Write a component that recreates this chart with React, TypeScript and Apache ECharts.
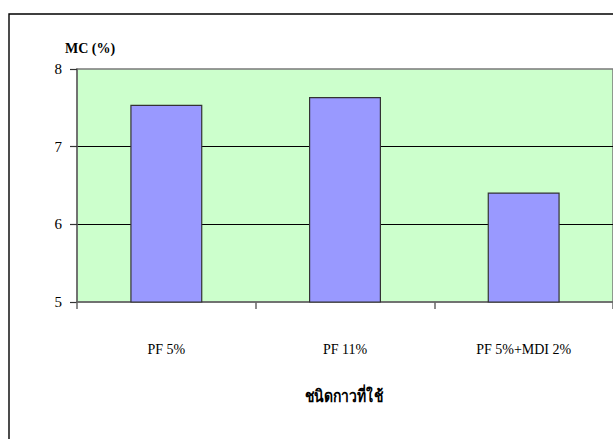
import React, { useEffect, useRef } from "react";
import * as echarts from "echarts";

const categories = ["PF 5%", "PF 11%", "PF 5%+MDI 2%"];
const mcValues = [7.54, 7.64, 6.41];
const yMin = 5;
const yMax = 8;
const yStep = 1;
const yTitle = "MC (%)";
const xTitle = "ชนิดกาวที่ใช้";

const serif = "Liberation Serif";

export default function App() {
  const ref = useRef<HTMLDivElement>(null);

  useEffect(() => {
    if (!ref.current) return;
    const chart = echarts.init(ref.current, undefined, { renderer: "svg" });
    chart.setOption({
      animation: false,
      backgroundColor: "#ffffff",
      grid: {
        left: 77,
        top: 69,
        width: 539,
        height: 233,
        show: true,
        backgroundColor: "#CCFFCC",
        borderColor: "#7a7a7a",
        borderWidth: 1.5,
      },
      graphic: [
        {
          type: "rect",
          shape: { x: 9, y: 14, width: 700, height: 500 },
          style: { fill: "none", stroke: "#000", lineWidth: 1.4 },
          z: 10,
        },
        {
          type: "text",
          x: 65,
          y: 48,
          style: {
            text: yTitle,
            fontFamily: serif,
            fontWeight: "bold",
            fontSize: 14,
            fill: "#000",
            verticalAlign: "middle",
          },
        },
        {
          type: "text",
          x: 344,
          y: 396,
          scaleX: 0.82,
          style: {
            text: xTitle,
            fontFamily: serif,
            fontWeight: "bold",
            fontSize: 17,
            fill: "#000",
            align: "center",
            verticalAlign: "middle",
          },
        },
      ],
      xAxis: {
        type: "category",
        data: categories,
        axisLine: { lineStyle: { color: "#666", width: 1.5 } },
        axisTick: { show: true, length: 7, lineStyle: { color: "#666", width: 1.5 } },
        axisLabel: {
          margin: 40,
          fontFamily: serif,
          fontSize: 14,
          color: "#000",
        },
      },
      yAxis: {
        type: "value",
        min: yMin,
        max: yMax,
        interval: yStep,
        axisLine: { show: true, lineStyle: { color: "#666", width: 1.5 } },
        axisTick: { show: true, length: 7, lineStyle: { color: "#333", width: 1.2 } },
        axisLabel: {
          margin: 15,
          fontFamily: serif,
          fontSize: 15,
          color: "#000",
        },
        splitLine: {
          show: true,
          showMinLine: false,
          showMaxLine: false,
          lineStyle: { color: "#000", width: 1.2 },
        },
      },
      series: [
        {
          type: "bar",
          data: mcValues,
          barWidth: 72,
          itemStyle: {
            color: "#9999FF",
            borderColor: "#333",
            borderWidth: 1.2,
          },
        },
      ],
    });
    return () => chart.dispose();
  }, []);

  return (
    <div
      ref={ref}
      style={{ position: "absolute", left: 0, top: 0, width: 613, height: 439 }}
    />
  );
}
